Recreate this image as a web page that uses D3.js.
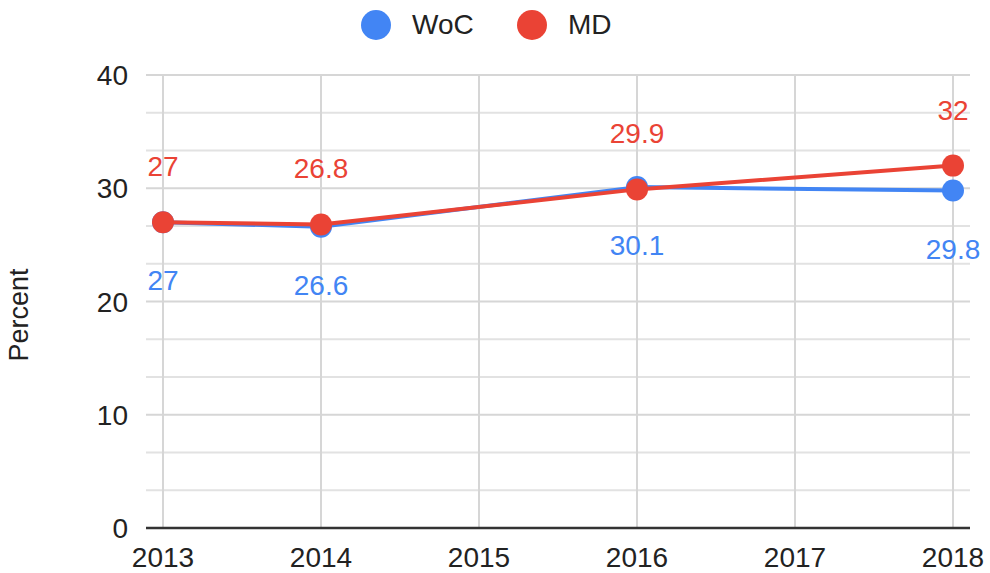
<!DOCTYPE html>
<html><head><meta charset="utf-8">
<script src="https://cdn.jsdelivr.net/npm/d3@7"></script>
<style>body{margin:0;background:#fff}svg{display:block;font-family:Arial,"Liberation Sans",Helvetica,sans-serif}</style>
</head><body><svg id="c" width="990" height="573"></svg>
<script>
const years = [2013, 2014, 2015, 2016, 2017, 2018];
const seriesNames = ["WoC", "MD"];
const wocValues = [27, 26.6, null, 30.1, null, 29.8];
const mdValues = [27, 26.8, null, 29.9, null, 32];
const yTicks = [0, 10, 20, 30, 40];
const colors = ["#4285F4", "#EA4335"];

const svg = d3.select("#c");
const x = d3.scaleLinear().domain([2013, 2018]).range([163, 953]);
const y = d3.scaleLinear().domain([0, 40]).range([528, 75]);
const left = 146, right = 970;

// minor gridlines (every 10/3)
const minor = d3.range(0, 13).map(i => i * 10 / 3).filter(v => Math.abs(v % 10) > 0.01 && Math.abs(v % 10 - 10) > 0.01);
svg.append("g").selectAll("line").data(minor).join("line")
  .attr("x1", left).attr("x2", right).attr("y1", d => y(d)).attr("y2", d => y(d))
  .attr("stroke", "#e2e2e2").attr("stroke-width", 2);
svg.append("g").selectAll("line").data(yTicks.filter(d => d > 0)).join("line")
  .attr("x1", left).attr("x2", right).attr("y1", d => y(d)).attr("y2", d => y(d))
  .attr("stroke", "#d6d6d6").attr("stroke-width", 2);
svg.append("g").selectAll("line").data(years).join("line")
  .attr("x1", d => x(d)).attr("x2", d => x(d)).attr("y1", y(40)).attr("y2", y(0))
  .attr("stroke", "#d6d6d6").attr("stroke-width", 2);

// axis line
svg.append("line").attr("x1", left).attr("x2", right).attr("y1", y(0)).attr("y2", y(0))
  .attr("stroke", "#333").attr("stroke-width", 2.5);

// y tick labels
svg.append("g").selectAll("text").data(yTicks).join("text")
  .attr("x", 128).attr("y", d => y(d) + 10).attr("text-anchor", "end")
  .attr("font-size", 28).attr("fill", "#222").text(d => d);
// x tick labels
svg.append("g").selectAll("text").data(years).join("text")
  .attr("x", d => x(d)).attr("y", 567).attr("text-anchor", "middle")
  .attr("font-size", 28).attr("fill", "#222").text(d => d);
// y title
svg.append("text").attr("transform", "translate(28,315) rotate(-90)")
  .attr("text-anchor", "middle").attr("font-size", 27).attr("fill", "#222").text("Percent");

// series
const all = [wocValues, mdValues];
const line = d3.line().defined(d => d.v != null).x(d => x(d.yr)).y(d => y(d.v));
all.forEach((vals, i) => {
  const pts = years.map((yr, j) => ({yr, v: vals[j]})).filter(d => d.v != null);
  const g = svg.append("g");
  g.append("path").datum(pts).attr("d", line).attr("fill", "none")
    .attr("stroke", colors[i]).attr("stroke-width", 4).attr("stroke-linejoin", "round");
  g.selectAll("circle").data(pts).join("circle")
    .attr("cx", d => x(d.yr)).attr("cy", d => y(d.v)).attr("r", 11).attr("fill", colors[i]);
});
// labels
all.forEach((vals, i) => {
  const pts = years.map((yr, j) => ({yr, v: vals[j]})).filter(d => d.v != null);
  svg.append("g").selectAll("text").data(pts).join("text")
    .attr("x", d => x(d.yr)).attr("y", d => i === 1 ? y(d.v) - 46 : y(d.v) + 68)
    .attr("text-anchor", "middle").attr("font-size", 28).attr("fill", colors[i])
    .text(d => d.v);
});

// legend
const legX = [376, 532];
seriesNames.forEach((n, i) => {
  svg.append("circle").attr("cx", legX[i]).attr("cy", 25).attr("r", 15).attr("fill", colors[i]);
  svg.append("text").attr("x", legX[i] + 36).attr("y", 34).attr("font-size", 28).attr("fill", "#222").text(n);
});
</script></body></html>
